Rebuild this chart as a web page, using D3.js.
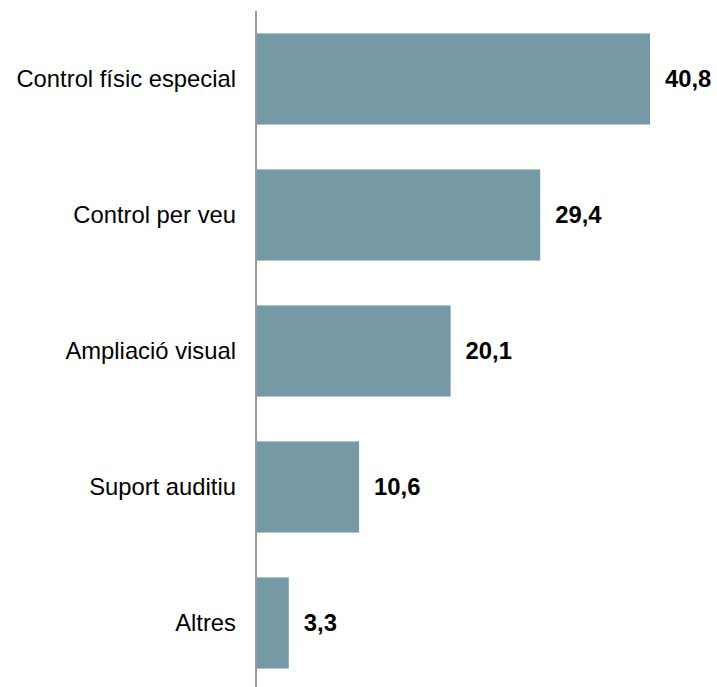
<!DOCTYPE html>
<html><head><meta charset="utf-8">
<script src="https://cdn.jsdelivr.net/npm/d3@7"></script>
<style>body{margin:0;background:#fff}svg{display:block}</style>
</head><body>
<svg id="c" width="717" height="687"></svg>
<script>
const categories = ["Control físic especial","Control per veu","Ampliació visual","Suport auditiu","Altres"];
const values = [40.8, 29.4, 20.1, 10.6, 3.3];
const valueLabels = ["40,8","29,4","20,1","10,6","3,3"];

const svg = d3.select("#c");
const x0 = 257;
const x = d3.scaleLinear().domain([0, 40.8]).range([x0, 650]);
const y = d3.scaleBand().domain(categories).range([11, 691]).paddingInner(0.33).paddingOuter(0.165);

svg.selectAll("rect.bar").data(categories).enter().append("rect")
  .attr("class","bar")
  .attr("x", x(0))
  .attr("y", d => y(d))
  .attr("width", (d,i) => x(values[i]) - x(0))
  .attr("height", y.bandwidth())
  .attr("fill", "#7599A5");

svg.append("line").attr("x1", x0-1).attr("x2", x0-1).attr("y1", 11).attr("y2", 687)
  .attr("stroke", "#999").attr("stroke-width", 2);

svg.selectAll("text.cat").data(categories).enter().append("text")
  .attr("class","cat")
  .attr("x", 236)
  .attr("y", d => y(d) + y.bandwidth()/2)
  .attr("dy", "0.35em")
  .attr("text-anchor", "end")
  .attr("font-family", "Liberation Sans, Arial, sans-serif")
  .attr("font-size", 23.8)
  .attr("fill", "#000")
  .text(d => d);

svg.selectAll("text.val").data(categories).enter().append("text")
  .attr("class","val")
  .attr("x", (d,i) => x(values[i]) + 15)
  .attr("y", d => y(d) + y.bandwidth()/2)
  .attr("dy", "0.35em")
  .attr("font-family", "Liberation Sans, Arial, sans-serif")
  .attr("font-size", 23.8)
  .attr("font-weight", "bold")
  .attr("fill", "#000")
  .text((d,i) => valueLabels[i]);
</script>
</body></html>
